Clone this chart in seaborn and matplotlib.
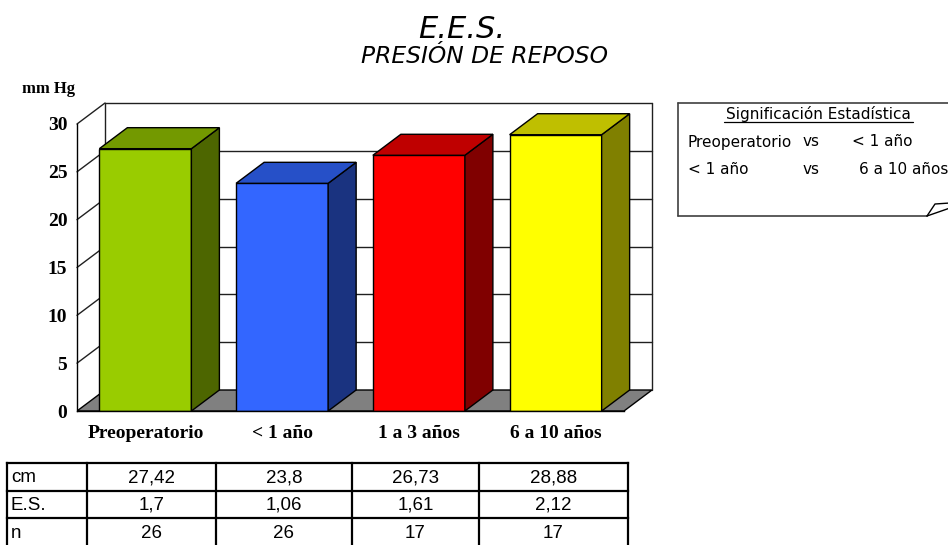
import matplotlib
matplotlib.use("Agg")
import matplotlib.pyplot as plt
from matplotlib.patches import Polygon, Rectangle
import seaborn as sns

# ---- data -------------------------------------------------------------
categories = ["Preoperatorio", "< 1 año", "1 a 3 años", "6 a 10 años"]
cm_values = [27.42, 23.8, 26.73, 28.88]
cm_labels = ["27,42", "23,8", "26,73", "28,88"]
es_labels = ["1,7", "1,06", "1,61", "2,12"]
n_labels = ["26", "26", "17", "17"]
row_names = ["cm", "E.S.", "n"]
y_ticks = [0, 5, 10, 15, 20, 25, 30]

front_colors = ["#99CC00", "#3366FF", "#FF0000", "#FFFF00"]
side_colors = ["#4D6600", "#1A3380", "#800000", "#808000"]
top_colors = ["#739900", "#2650C8", "#BF0000", "#BFBF00"]

# ---- figure -----------------------------------------------------------
W, H, DPI = 948, 545, 100
sns.set_theme(style="white")
plt.rcParams["font.family"] = ["DejaVu Sans"]
fig = plt.figure(figsize=(W / DPI, H / DPI), dpi=DPI)

# chart axes: front plane 0..30, plus room for the depth of the 3D box
DX, DY = 0.2048, 2.195          # depth offset in data units
px_left, px_right, px_bottom, px_top = 77, 652, 411, 103
ax = fig.add_axes([px_left / W, (H - px_bottom) / H,
                   (px_right - px_left) / W, (px_bottom - px_top) / H])

sns.barplot(x=categories, y=cm_values, hue=categories, palette=front_colors,
            width=0.673, saturation=1, edgecolor="black", linewidth=1,
            legend=False, ax=ax, zorder=3)

ax.set_xlim(-0.5, 3.5 + DX)
ax.set_ylim(0, 30 + DY)
ax.set_facecolor("none")

# floor
floor = Polygon([(-0.5, 0), (3.5, 0), (3.5 + DX, DY), (-0.5 + DX, DY)],
                closed=True, facecolor="#808080", edgecolor="black",
                linewidth=1, zorder=0.5)
ax.add_patch(floor)

# back wall grid and frame
line_kw = dict(color="#202020", linewidth=1, clip_on=False, zorder=0.6)
for k in y_ticks[1:]:
    ax.plot([-0.5 + DX, 3.5 + DX], [k + DY, k + DY], **line_kw)
    ax.plot([-0.5, -0.5 + DX], [k, k + DY], **line_kw)
ax.plot([-0.5 + DX, -0.5 + DX], [DY, 30 + DY], **line_kw)
ax.plot([3.5 + DX, 3.5 + DX], [DY, 30 + DY], **line_kw)

# 3D sides and tops of the bars
for i, p in enumerate(ax.patches[1:] if ax.patches[0] is floor else ax.patches):
    if not isinstance(p, Rectangle):
        continue
    x0, w, h = p.get_x(), p.get_width(), p.get_height()
    x1 = x0 + w
    side = Polygon([(x1, 0), (x1 + DX, DY), (x1 + DX, h + DY), (x1, h)],
                   closed=True, facecolor=side_colors[i], edgecolor="black",
                   linewidth=1, zorder=3.1)
    top = Polygon([(x0, h), (x1, h), (x1 + DX, h + DY), (x0 + DX, h + DY)],
                  closed=True, facecolor=top_colors[i], edgecolor="black",
                  linewidth=1, zorder=3.1)
    ax.add_patch(side)
    ax.add_patch(top)

# axes lines and ticks
for s in ["top", "right"]:
    ax.spines[s].set_visible(False)
ax.spines["left"].set_bounds(0, 30)
ax.spines["bottom"].set_bounds(-0.5, 3.5)
for s in ["left", "bottom"]:
    ax.spines[s].set_color("black")
    ax.spines[s].set_linewidth(1)
    ax.spines[s].set_zorder(4)

ax.set_yticks(y_ticks)
ax.set_yticklabels([str(v) for v in y_ticks],
                   fontfamily="Liberation Serif", fontweight="bold", fontsize=14)
ax.tick_params(axis="y", direction="out", length=3, width=1, pad=4, colors="black")

ax.set_xticks(range(len(categories)))
ax.set_xticklabels(categories, fontfamily="Liberation Serif",
                   fontweight="bold", fontsize=14)
ax.set_xticks([0.5, 1.5, 2.5, 3.5], minor=True)
ax.tick_params(axis="x", which="major", length=0, pad=10, colors="black")
ax.tick_params(axis="x", which="minor", direction="out", length=4, width=1,
               color="black")
ax.set_xlabel("")
ax.set_ylabel("")

# ---- overlay in pixel coordinates: titles, table, note box ------------
ov = fig.add_axes([0, 0, 1, 1])
ov.set_xlim(0, W)
ov.set_ylim(H, 0)
ov.axis("off")
ov.patch.set_alpha(0)

ov.text(462, 38, "E.E.S.", fontsize=22, fontstyle="italic",
        ha="center", va="baseline", color="black")
ov.text(485, 63, "PRESIÓN DE REPOSO", fontsize=16.8, fontstyle="italic",
        ha="center", va="baseline", color="black")
ov.text(49, 89, "mm Hg", fontfamily="Liberation Serif", fontweight="bold",
        fontsize=12, ha="center", va="center", color="black")

# statistics table
col_edges = [7, 87, 216, 352, 479, 628]
row_edges = [463, 491, 518, 548]
tbl_kw = dict(color="black", linewidth=1.6, solid_capstyle="projecting")
for yy in row_edges:
    ov.plot([col_edges[0], col_edges[-1]], [yy, yy], **tbl_kw)
for xx in col_edges:
    ov.plot([xx, xx], [row_edges[0], row_edges[-1]], **tbl_kw)
rows = [cm_labels, es_labels, n_labels]
for r, (name, vals) in enumerate(zip(row_names, rows)):
    yc = (row_edges[r] + row_edges[r + 1]) / 2 + 1
    ov.text(col_edges[0] + 4, yc, name, fontfamily="Liberation Sans",
            fontsize=13.5, ha="left", va="center", color="black")
    for c, v in enumerate(vals):
        xc = (col_edges[c + 1] + col_edges[c + 2]) / 2
        ov.text(xc, yc, v, fontfamily="Liberation Sans", fontsize=13.5,
                ha="center", va="center", color="black")

# note box with folded corner
box_kw = dict(color="#404040", linewidth=1.2)
ov.plot([678, 960], [103, 103], **box_kw)
ov.plot([678, 678], [103, 216], **box_kw)
ov.plot([678, 927], [216, 216], **box_kw)
ov.plot([927, 935, 950], [216, 204, 203], color="black", linewidth=1)
ov.plot([927, 950], [216, 208], color="black", linewidth=1)

ov.text(818, 114, "Significación Estadística", fontsize=11,
        ha="center", va="center", color="black")
ov.plot([724, 913], [121.5, 121.5], color="black", linewidth=0.9)
note_rows = [("Preoperatorio", "vs", "< 1 año", 852, 142),
             ("< 1 año", "vs", "6 a 10 años", 859, 170)]
for a, b, c, xc, yy in note_rows:
    ov.text(688, yy, a, fontsize=11, ha="left", va="center", color="black")
    ov.text(803, yy, b, fontsize=11, ha="left", va="center", color="black")
    ov.text(xc, yy, c, fontsize=11, ha="left", va="center", color="black")

fig.savefig("out.png", dpi=DPI, facecolor="white")
